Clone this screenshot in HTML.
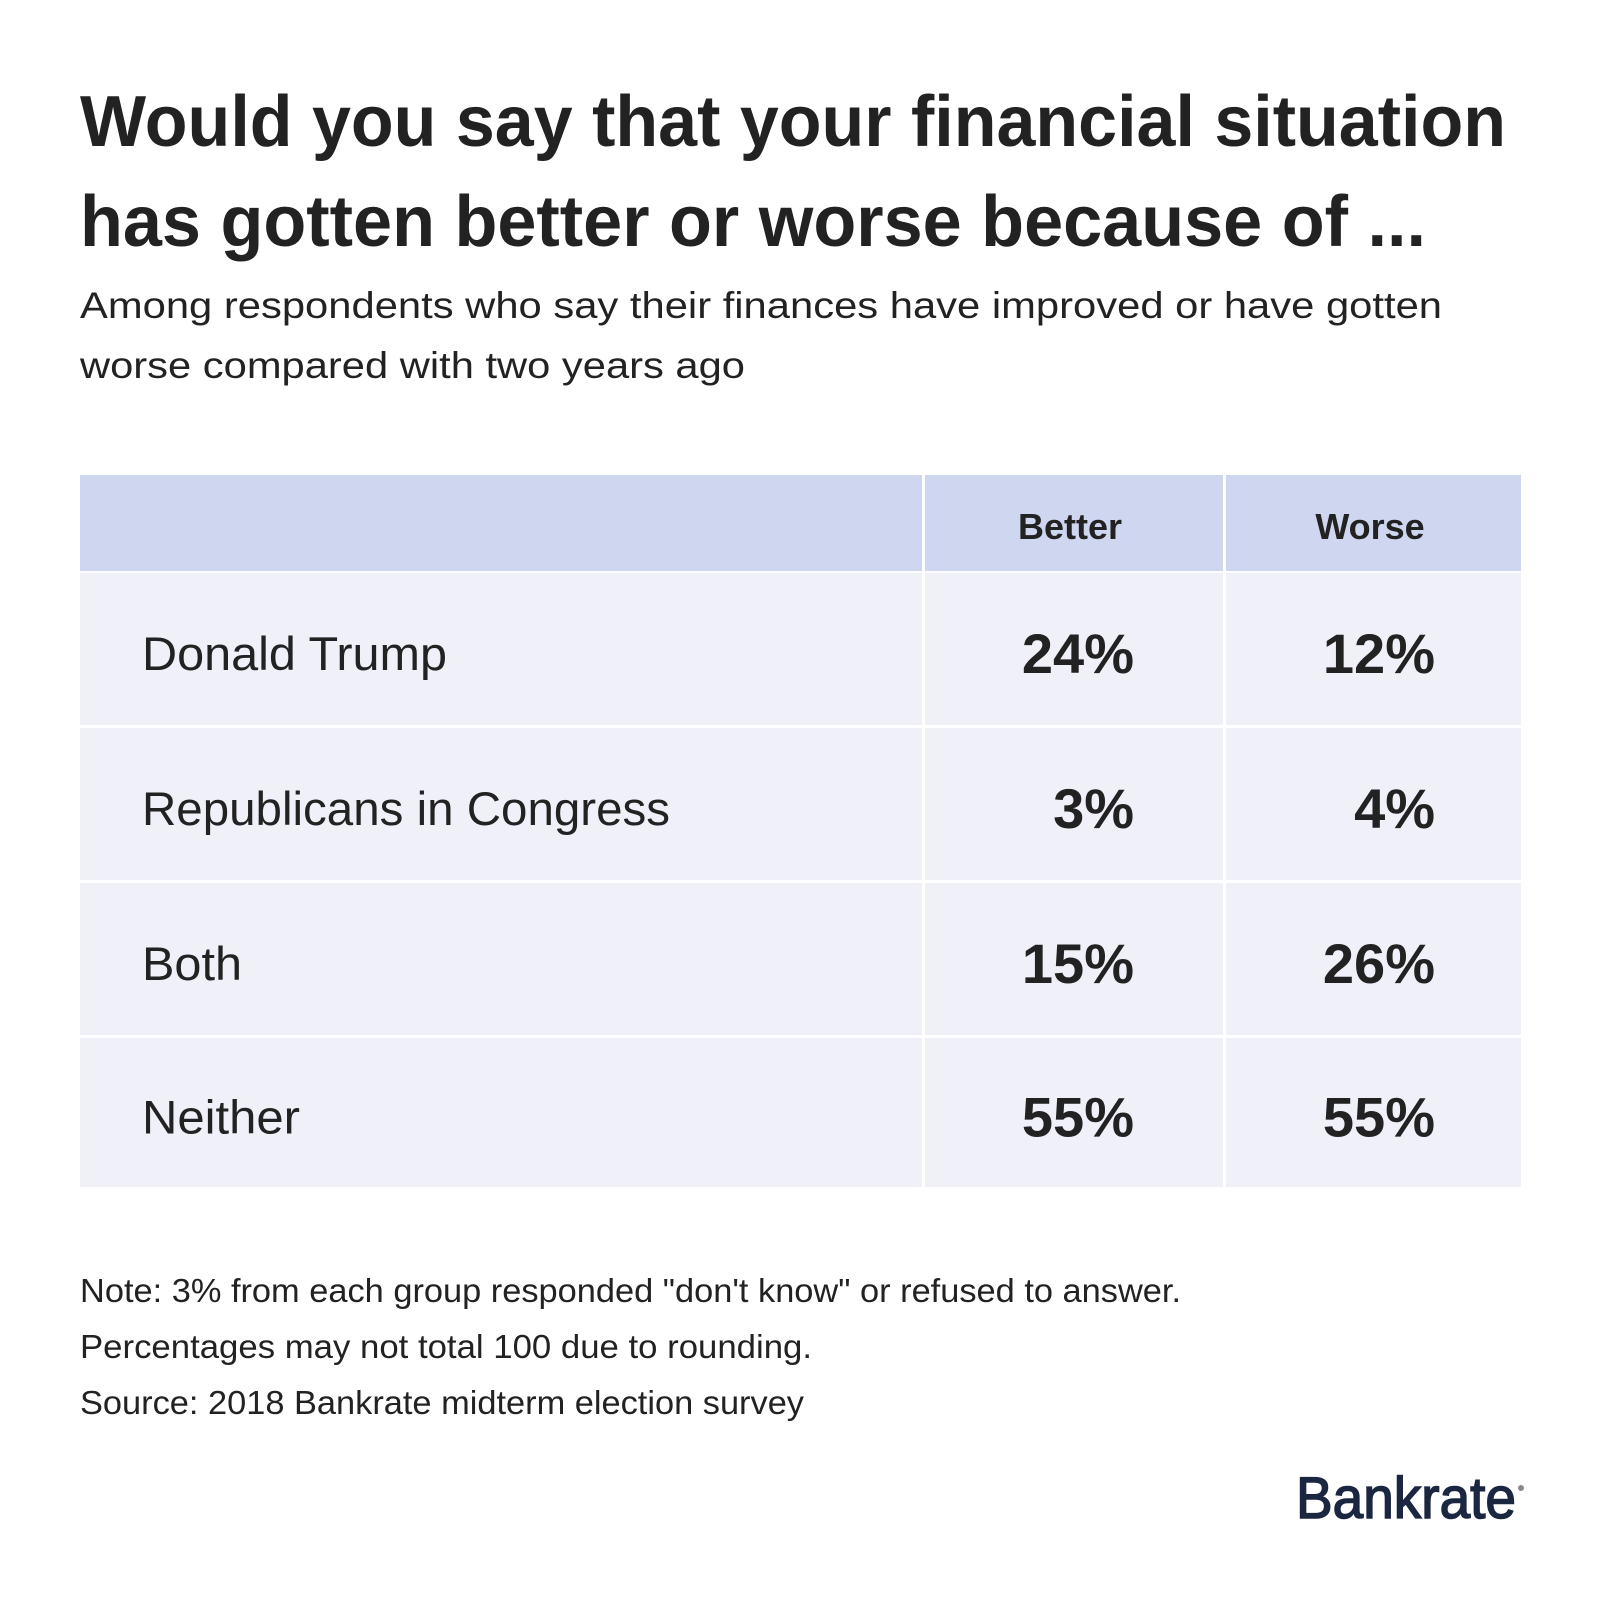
<!DOCTYPE html>
<html><head><meta charset="utf-8"><style>
html,body{margin:0;padding:0;background:#fff}
svg{display:block}
text{font-family:"Liberation Sans",Arial,sans-serif;fill:#222}
</style></head><body>
<svg id="c" width="1600" height="1600" viewBox="0 0 1600 1600">
<text x="80" y="146" font-size="72" font-weight="bold" textLength="1426" lengthAdjust="spacingAndGlyphs">Would you say that your financial situation</text>
<text x="80" y="246" font-size="72" font-weight="bold" textLength="1346" lengthAdjust="spacingAndGlyphs">has gotten better or worse because of ...</text>
<text x="80" y="318" font-size="37" textLength="1362" lengthAdjust="spacingAndGlyphs">Among respondents who say their finances have improved or have gotten</text>
<text x="80" y="378" font-size="37" textLength="665" lengthAdjust="spacingAndGlyphs">worse compared with two years ago</text>
<g id="tbl"></g>
<text x="80" y="1302" font-size="33" textLength="1101" lengthAdjust="spacingAndGlyphs">Note: 3% from each group responded "don't know" or refused to answer.</text>
<text x="80" y="1358" font-size="33" textLength="732" lengthAdjust="spacingAndGlyphs">Percentages may not total 100 due to rounding.</text>
<text x="80" y="1414" font-size="33" textLength="724" lengthAdjust="spacingAndGlyphs">Source: 2018 Bankrate midterm election survey</text>
<text x="1296" y="1518" font-size="58" style="fill:#1b2640;stroke:#1b2640;stroke-width:1.5" textLength="220" lengthAdjust="spacingAndGlyphs">Bankrate</text>
<circle cx="1521" cy="1488" r="3" fill="#888"/>
</svg>
<script>
const categories=["Donald Trump","Republicans in Congress","Both","Neither"];
const betterValues=[24,3,15,55];
const worseValues=[12,4,26,55];
const columnHeaders=["Better","Worse"];
const NS="http://www.w3.org/2000/svg";
const g=document.getElementById('tbl');
function mk(tag,attrs,txt){const e=document.createElementNS(NS,tag);for(const k in attrs)e.setAttribute(k,attrs[k]);if(txt!==undefined)e.textContent=txt;g.appendChild(e);return e;}
const colX=[80,925,1226], colW=[842,298,295];
const rowTops=[573,728,883,1038], rowH=[152,152,152,149];
const labelW=[305,528,100,158];
for(let c=0;c<3;c++){
  const r=mk('rect',{x:colX[c],y:475,width:colW[c],height:96,fill:'#cfd6f0'});
  
  
}
columnHeaders.forEach((h,i)=>{
  const t=mk('text',{x:[1070,1370][i],y:539,'font-size':36,'font-weight':'bold','text-anchor':'middle'},h);
  
  
});
categories.forEach((cat,i)=>{
  const y=rowTops[i],h=rowH[i];
  for(let c=0;c<3;c++){
    const r=mk('rect',{x:colX[c],y:y,width:colW[c],height:h,fill:'#eff0f8'});
    
    
  }
  const cy=y+h/2+21;
  const l=mk('text',{x:142,y:cy,'font-size':47,textLength:labelW[i],lengthAdjust:'spacingAndGlyphs'},cat);
  
  
  const b=mk('text',{x:1134,y:cy+3,'font-size':56,'font-weight':'bold','text-anchor':'end'},betterValues[i]+'%');
  
  
  const w=mk('text',{x:1435,y:cy+3,'font-size':56,'font-weight':'bold','text-anchor':'end'},worseValues[i]+'%');
  
  
});
</script>
</body></html>
